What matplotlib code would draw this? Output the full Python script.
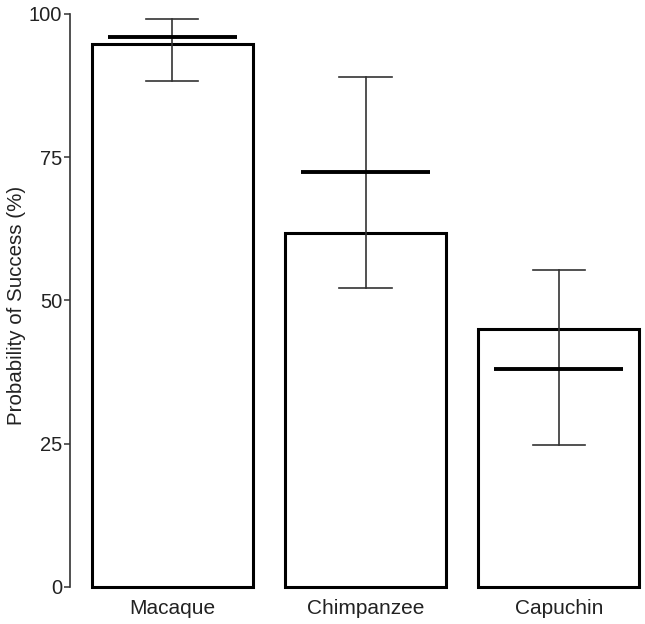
import matplotlib
matplotlib.use("Agg")
import matplotlib.pyplot as plt

species = ["Macaque", "Chimpanzee", "Capuchin"]
observed = [94.8, 61.8, 45.0]
model_mean = [96.0, 72.4, 38.0]
ci_low = [88.3, 52.2, 24.8]
ci_high = [99.1, 89.0, 55.3]
yticks = [0, 25, 50, 75, 100]

plt.rcParams["font.family"] = ["Liberation Sans", "DejaVu Sans"]

fig = plt.figure(figsize=(6.45, 6.24), dpi=100)
ax = fig.add_axes([0.1085, 0.0593, 0.8835, 0.9183])

x = list(range(len(species)))
ax.bar(x, observed, width=0.834, color="white", edgecolor="black",
       linewidth=2.2, clip_on=False, zorder=1)

for xi, lo, hi in zip(x, ci_low, ci_high):
    ax.plot([xi, xi], [lo, hi], color="#333333", lw=1.2, zorder=2)
    ax.plot([xi - 0.135, xi + 0.135], [lo, lo], color="#333333", lw=1.2, zorder=2)
    ax.plot([xi - 0.135, xi + 0.135], [hi, hi], color="#333333", lw=1.2, zorder=2)

for xi, m in zip(x, model_mean):
    ax.plot([xi - 0.335, xi + 0.335], [m, m], color="black", lw=2.8,
            solid_capstyle="butt", zorder=3)

ax.set_xlim(-0.53, 2.42)
ax.set_ylim(0, 100)
ax.set_yticks(yticks)
ax.set_xticks(x)
ax.set_xticklabels(species)
ax.set_ylabel("Probability of Success (%)", fontsize=14.8, color="#222222")
ax.yaxis.set_label_coords(-0.078, 0.492)

for side in ["top", "right", "bottom"]:
    ax.spines[side].set_visible(False)
ax.spines["left"].set_color("#333333")
ax.spines["left"].set_linewidth(1.2)
ax.tick_params(axis="y", length=4, width=1.1, color="#333333",
               labelsize=14.5, labelcolor="#222222", pad=1.5)
ax.tick_params(axis="x", length=0, labelsize=15, labelcolor="#222222", pad=9)

fig.savefig("out.png", dpi=100)
